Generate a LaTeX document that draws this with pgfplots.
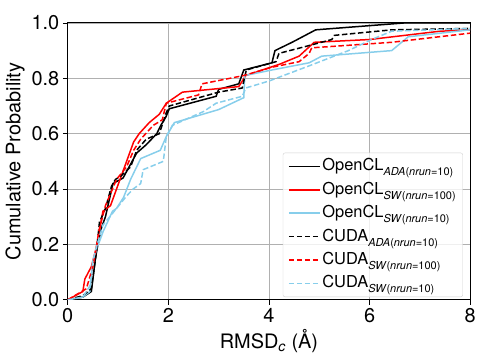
\documentclass[border=0pt]{standalone}
\usepackage{pgfplots}
\pgfplotsset{compat=1.18}
\usepackage{fontspec}
\setmainfont{TeX Gyre Heros}
\definecolor{skyb}{HTML}{87CEEB}
\newcommand{\sub}[1]{\raisebox{-0.3em}{\fontsize{11}{12}\selectfont #1}}
\begin{document}
\begin{tikzpicture}
\begin{axis}[
  scale only axis, width=404pt, height=278pt,
  xmin=0, xmax=8, ymin=0, ymax=1,
  xtick={0,2,4,6,8}, ytick={0,0.2,0.4,0.6,0.8,1.0},
  yticklabel style={/pgf/number format/.cd,fixed,fixed zerofill,precision=1},
  /pgf/number format/assume math mode=true,
  tick label style={font=\fontsize{20}{24}\selectfont},
  label style={font=\fontsize{20}{24}\selectfont},
  xlabel={RMSD\textsubscript{\textit{c}} (Å)},
  ylabel={Cumulative Probability},
  tick align=outside, tick pos=left, major tick length=5pt,
  every tick/.style={black, line width=0.8pt},
  grid=major, major grid style={color=black!31, line width=0.8pt},
  axis line style={line width=0.9pt},
  legend cell align=left,
  legend style={at={(0.982,0.01)}, anchor=south east, font=\fontsize{16.5}{19}\selectfont,
    draw=black!18, fill=white, fill opacity=0.8, text opacity=1, rounded corners=2pt,
    row sep=4.5pt, inner xsep=5pt, inner ysep=4pt,
    nodes={text height=12pt, text depth=3pt}},
  legend image code/.code={\draw[#1, line width=1.5pt] (0pt,0pt) -- (31pt,0pt);},
]
\addplot[black, line width=1.5pt] coordinates {(0,0) (0.3,0.01) (0.47,0.03) (0.55,0.15) (0.6,0.2) (0.67,0.26) (0.75,0.3) (0.85,0.38) (0.9,0.42) (1.1,0.44) (1.37,0.53) (1.56,0.56) (1.77,0.6) (1.85,0.63) (1.95,0.66) (2.02,0.69) (2.95,0.735) (3.0,0.76) (3.4,0.78) (3.5,0.83) (4.06,0.856) (4.12,0.9) (4.46,0.93) (4.93,0.975) (6.7,1.0) (8,1.0)};
\addlegendentry{OpenCL\sub{\textit{ADA}(\textit{nrun}=10)}}
\addplot[red, line width=1.5pt] coordinates {(0,0) (0.3,0.03) (0.34,0.075) (0.47,0.12) (0.57,0.19) (0.7,0.32) (0.85,0.34) (0.97,0.40) (1.11,0.47) (1.31,0.57) (1.42,0.6) (1.62,0.64) (1.82,0.67) (1.96,0.71) (2.28,0.75) (3.4,0.77) (3.54,0.81) (4.2,0.85) (4.6,0.88) (4.9,0.93) (6.0,0.94) (7.4,0.97) (8,0.975)};
\addlegendentry{OpenCL\sub{\textit{SW}(\textit{nrun}=100)}}
\addplot[skyb, line width=1.5pt] coordinates {(0,0) (0.3,0.01) (0.44,0.03) (0.5,0.14) (0.57,0.18) (0.7,0.245) (0.89,0.32) (0.97,0.33) (1.11,0.37) (1.25,0.435) (1.45,0.51) (1.84,0.54) (1.96,0.59) (2.12,0.64) (3.0,0.687) (3.5,0.73) (3.52,0.81) (4.06,0.83) (4.8,0.856) (5.05,0.88) (6.44,0.9) (6.77,0.95) (8,0.975)};
\addlegendentry{OpenCL\sub{\textit{SW}(\textit{nrun}=10)}}
\addplot[black, line width=1.5pt, dash pattern=on 5.5pt off 2.6pt] coordinates {(0,0) (0.3,0.015) (0.47,0.04) (0.57,0.17) (0.63,0.28) (0.75,0.33) (0.87,0.41) (0.95,0.435) (1.05,0.446) (1.25,0.48) (1.37,0.54) (1.56,0.58) (1.82,0.6) (1.96,0.676) (2.02,0.70) (3.0,0.75) (3.47,0.765) (3.55,0.83) (4.14,0.86) (4.2,0.89) (4.73,0.915) (5.25,0.94) (5.3,0.955) (6.44,0.975) (8,0.98)};
\addlegendentry{CUDA\sub{\textit{ADA}(\textit{nrun}=10)}}
\addplot[red, line width=1.5pt, dash pattern=on 5.5pt off 2.6pt] coordinates {(0,0) (0.37,0.04) (0.5,0.12) (0.57,0.19) (0.62,0.25) (0.75,0.34) (0.97,0.435) (1.17,0.48) (1.31,0.54) (1.45,0.58) (1.7,0.63) (1.88,0.65) (1.96,0.71) (2.6,0.74) (2.67,0.78) (3.5,0.81) (4.06,0.84) (4.6,0.86) (4.8,0.89) (4.85,0.91) (6.44,0.93) (8,0.963)};
\addlegendentry{CUDA\sub{\textit{SW}(\textit{nrun}=100)}}
\addplot[skyb, line width=1.5pt, dash pattern=on 5.5pt off 2.6pt] coordinates {(0,0) (0.3,0.01) (0.44,0.05) (0.5,0.14) (0.57,0.19) (0.7,0.27) (0.97,0.33) (1.17,0.375) (1.3,0.40) (1.45,0.42) (1.5,0.47) (1.9,0.50) (1.96,0.59) (2.08,0.63) (2.7,0.68) (2.95,0.71) (3.47,0.735) (3.54,0.765) (4.0,0.79) (4.8,0.845) (5.58,0.9) (6.04,0.94) (6.44,0.97) (8,0.98)};
\addlegendentry{CUDA\sub{\textit{SW}(\textit{nrun}=10)}}
\end{axis}
\path (current axis.south west) ++(-68pt,-51pt) rectangle ++(479pt,352pt);
\end{tikzpicture}
\end{document}
